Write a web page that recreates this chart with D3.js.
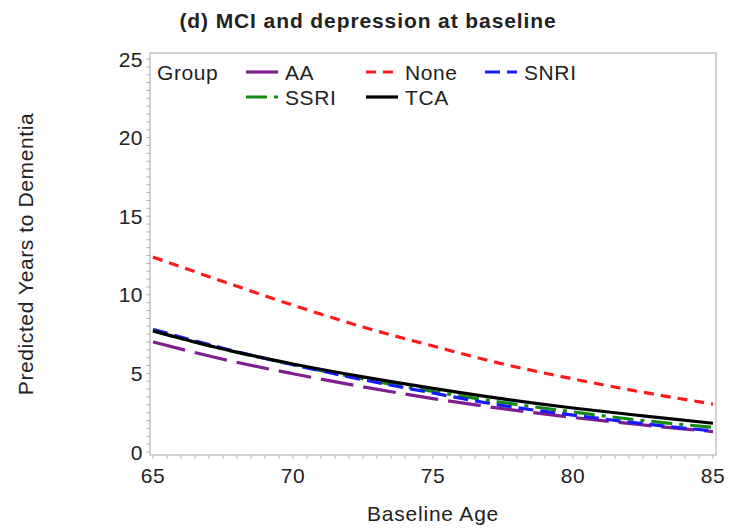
<!DOCTYPE html>
<html>
<head>
<meta charset="utf-8">
<script src="https://cdn.jsdelivr.net/npm/d3@7"></script>
<style>
  html, body { margin: 0; padding: 0; background: #fff; }
  svg { display: block; font-family: "Liberation Sans", Arial, sans-serif; }
</style>
</head>
<body>
<svg id="chart" width="729" height="530"></svg>
<script>
// ---- data ----
const ages = [65, 67.5, 70, 72.5, 75, 77.5, 80, 82.5, 85];
const groups = ["AA", "None", "SNRI", "SSRI", "TCA"];
const valuesAA   = [7.0, 5.9, 4.98, 4.14, 3.4, 2.75, 2.2, 1.72, 1.3];
const valuesNone = [12.4, 10.85, 9.34, 7.95, 6.74, 5.6, 4.65, 3.8, 3.05];
const valuesSNRI = [7.8, 6.6, 5.55, 4.6, 3.75, 2.95, 2.35, 1.8, 1.34];
const valuesSSRI = [7.7, 6.55, 5.55, 4.65, 3.85, 3.15, 2.55, 2.0, 1.57];
const valuesTCA  = [7.7, 6.55, 5.6, 4.78, 4.05, 3.38, 2.8, 2.3, 1.83];
const xTicks = [65, 70, 75, 80, 85];
const yTicks = [0, 5, 10, 15, 20, 25];
const title = "(d) MCI and depression at baseline";
const xLabel = "Baseline Age";
const yLabel = "Predicted Years to Dementia";

const seriesValues = { AA: valuesAA, None: valuesNone, SNRI: valuesSNRI, SSRI: valuesSSRI, TCA: valuesTCA };
const styles = {
  AA:   { color: "#7f1f8f", dash: "33,10" },
  None: { color: "#ff1a1a", dash: "10,7" },
  SNRI: { color: "#1a1aff", dash: "15,7" },
  SSRI: { color: "#138a13", dash: "21,7,4,7" },
  TCA:  { color: "#000000", dash: null }
};
const drawOrder = ["AA", "None", "SSRI", "SNRI", "TCA"];

const svg = d3.select("#chart");
const x = d3.scaleLinear().domain([65, 85]).range([153, 713]);
const y = d3.scaleLinear().domain([0, 25]).range([452, 59]);
const frame = { left: 150, right: 716, top: 53, bottom: 455 };
const axisColor = "#b4b4b4";
const textColor = "#222";

// frame
svg.append("rect")
  .attr("x", frame.left).attr("y", frame.top)
  .attr("width", frame.right - frame.left).attr("height", frame.bottom - frame.top)
  .attr("fill", "none").attr("stroke", axisColor).attr("stroke-width", 1.2);

// x ticks (minor every 0.5)
const xMinor = d3.range(65, 85.001, 0.5);
svg.append("g").selectAll("line").data(xMinor).join("line")
  .attr("x1", d => x(d)).attr("x2", d => x(d))
  .attr("y1", frame.bottom).attr("y2", frame.bottom + 4)
  .attr("stroke", axisColor).attr("stroke-width", 1);
svg.append("g").selectAll("text").data(xTicks).join("text")
  .attr("x", d => x(d)).attr("y", frame.bottom + 28)
  .attr("text-anchor", "middle").attr("font-size", 21).attr("letter-spacing", 0.5)
  .attr("fill", textColor)
  .text(d => d);

// y ticks (minor every 0.5)
const yMinor = d3.range(0, 25.001, 0.5);
svg.append("g").selectAll("line").data(yMinor).join("line")
  .attr("x1", frame.left - 4).attr("x2", frame.left)
  .attr("y1", d => y(d)).attr("y2", d => y(d))
  .attr("stroke", axisColor).attr("stroke-width", 1);
svg.append("g").selectAll("text").data(yTicks).join("text")
  .attr("x", 143).attr("y", d => y(d) + 7.5)
  .attr("text-anchor", "end").attr("font-size", 21).attr("letter-spacing", 0.5)
  .attr("fill", textColor)
  .text(d => d);

// lines
const line = d3.line().x(d => x(d[0])).y(d => y(d[1])).curve(d3.curveMonotoneX);
const lg = svg.append("g");
drawOrder.forEach(g => {
  const pts = ages.map((a, i) => [a, seriesValues[g][i]]);
  lg.append("path").datum(pts)
    .attr("d", line).attr("fill", "none")
    .attr("stroke", styles[g].color).attr("stroke-width", 3.2)
    .attr("stroke-dasharray", styles[g].dash);
});

// legend
const legend = svg.append("g").attr("font-size", 21).attr("letter-spacing", 0.6).attr("fill", textColor);
legend.append("text").attr("x", 157).attr("y", 80).text("Group");
const legendPos = {
  AA:   [246, 72], None: [366, 72], SNRI: [485, 72],
  SSRI: [246, 97], TCA:  [366, 97]
};
groups.forEach(g => {
  const [lx, ly] = legendPos[g];
  legend.append("line")
    .attr("x1", lx).attr("x2", lx + 32).attr("y1", ly).attr("y2", ly)
    .attr("stroke", styles[g].color).attr("stroke-width", 3.2)
    .attr("stroke-dasharray", g === "AA" ? null : styles[g].dash);
  legend.append("text").attr("x", lx + 39).attr("y", ly + 8).text(g);
});

// title
svg.append("text").attr("x", 368).attr("y", 28)
  .attr("text-anchor", "middle").attr("font-size", 21).attr("font-weight", "bold")
  .attr("letter-spacing", 0.9)
  .attr("fill", textColor).text(title);

// axis labels
svg.append("text").attr("x", 433).attr("y", 521)
  .attr("text-anchor", "middle").attr("font-size", 21).attr("letter-spacing", 0.8)
  .attr("fill", textColor).text(xLabel);
svg.append("text").attr("transform", "translate(33,254) rotate(-90)")
  .attr("text-anchor", "middle").attr("font-size", 21).attr("letter-spacing", 0.6)
  .attr("fill", textColor).text(yLabel);
</script>
</body>
</html>
